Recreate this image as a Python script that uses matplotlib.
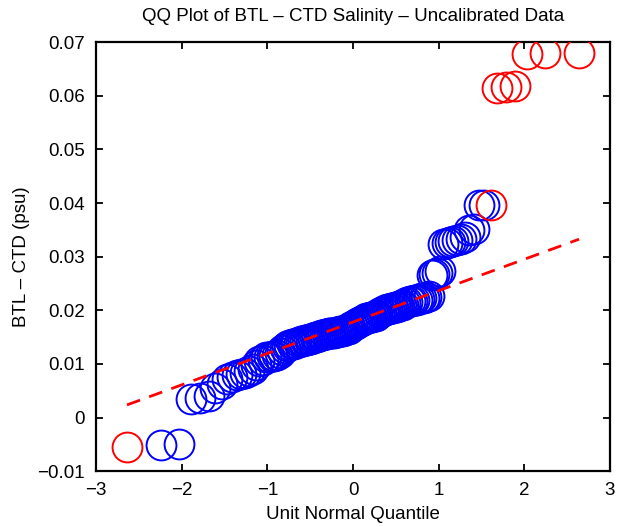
import matplotlib
matplotlib.use("Agg")
import matplotlib.pyplot as plt
import numpy as np
from statistics import NormalDist

# ---- data (sorted BTL - CTD salinity differences, psu) ----
salinity_diff = [
    -0.0055, -0.0051, -0.0050, 0.0034, 0.0036, 0.0040, 0.0055, 0.0062, 0.0072, 0.0075,
    0.0080, 0.0082, 0.0083, 0.0086, 0.0090, 0.0098, 0.0105, 0.0108, 0.0112, 0.0113,
    0.0114, 0.0115, 0.0117, 0.0120, 0.0125, 0.0130, 0.0133, 0.0135, 0.0137, 0.0138,
    0.0139, 0.0141, 0.0142, 0.0143, 0.0144, 0.0145, 0.0146, 0.0147, 0.0148, 0.0150,
    0.0151, 0.0152, 0.0153, 0.0154, 0.0155, 0.0156, 0.0157, 0.0157, 0.0158, 0.0158,
    0.0159, 0.0160, 0.0161, 0.0161, 0.0162, 0.0163, 0.0165, 0.0166, 0.0168, 0.0170,
    0.0172, 0.0174, 0.0176, 0.0178, 0.0180, 0.0182, 0.0184, 0.0185, 0.0186, 0.0187,
    0.0188, 0.0189, 0.0190, 0.0192, 0.0194, 0.0196, 0.0198, 0.0200, 0.0202, 0.0203,
    0.0204, 0.0205, 0.0206, 0.0207, 0.0208, 0.0209, 0.0210, 0.0213, 0.0215, 0.0217,
    0.0218, 0.0219, 0.0220, 0.0221, 0.0222, 0.0223, 0.0224, 0.0226, 0.0265, 0.0268,
    0.0270, 0.0273, 0.0324, 0.0326, 0.0328, 0.0330, 0.0331, 0.0332, 0.0336, 0.0350,
    0.0352, 0.0396, 0.0396, 0.0397, 0.0615, 0.0617, 0.0618, 0.0678, 0.0679, 0.0680,
]
# ranks (0-based, in sorted order) of the flagged outliers drawn in red
outlier_ranks = [0, 113, 114, 115, 116, 117, 118, 119]

xticks = [-3, -2, -1, 0, 1, 2, 3]
xtick_labels = ["\u22123", "\u22122", "\u22121", "0", "1", "2", "3"]
yticks = [-0.01, 0.0, 0.01, 0.02, 0.03, 0.04, 0.05, 0.06, 0.07]
ytick_labels = ["\u22120.01", "0", "0.01", "0.02", "0.03", "0.04", "0.05", "0.06", "0.07"]

title_text = "QQ Plot of BTL \u2013 CTD Salinity \u2013 Uncalibrated Data"
xlabel_text = "Unit Normal Quantile"
ylabel_text = "BTL \u2013 CTD (psu)"

# ---- QQ construction ----
y = np.array(salinity_diff)
n = len(y)
nd = NormalDist()
xq = np.array([nd.inv_cdf((i + 0.5) / n) for i in range(n)])
is_out = np.zeros(n, dtype=bool)
is_out[outlier_ranks] = True

# reference line through the quartiles, extended over the data range
q1, q3 = np.percentile(y, [25, 75], method="hazen")
zx1, zx3 = nd.inv_cdf(0.25), nd.inv_cdf(0.75)
slope = (q3 - q1) / (zx3 - zx1)
icpt = q1 - slope * zx1
lx = np.array([xq.min(), xq.max()])
ly = icpt + slope * lx

plt.rcParams["font.family"] = ["Liberation Sans", "DejaVu Sans"]
fig = plt.figure(figsize=(6.21, 5.27), dpi=100)
ax = fig.add_axes([0.1546, 0.106, 0.8277, 0.814])

fs = 13.5
ms = 21.5
mew = 1.4
ax.plot(xq[~is_out], y[~is_out], linestyle="none", marker="o", ms=ms,
        mfc="none", mec=(0, 0, 1), mew=mew, zorder=2)
ax.plot(xq[is_out], y[is_out], linestyle="none", marker="o", ms=ms,
        mfc="none", mec=(1, 0, 0), mew=mew, zorder=3)
ax.plot(lx, ly, color=(1, 0, 0), lw=2.0, linestyle=(0, (5, 3.5)), zorder=4)

ax.set_xlim(-3, 3)
ax.set_ylim(-0.01, 0.07)
ax.set_xticks(xticks)
ax.set_xticklabels(xtick_labels)
ax.set_yticks(yticks)
ax.set_yticklabels(ytick_labels)
ax.tick_params(direction="in", length=5, width=1.3, top=True, right=True,
               labelsize=fs, pad=8, colors="black")
for s in ax.spines.values():
    s.set_linewidth(1.6)
ax.set_title(title_text, fontsize=fs, pad=15)
ax.set_xlabel(xlabel_text, fontsize=fs, labelpad=5)
ax.set_ylabel(ylabel_text, fontsize=fs, labelpad=5)

fig.savefig("out.png", dpi=100)
